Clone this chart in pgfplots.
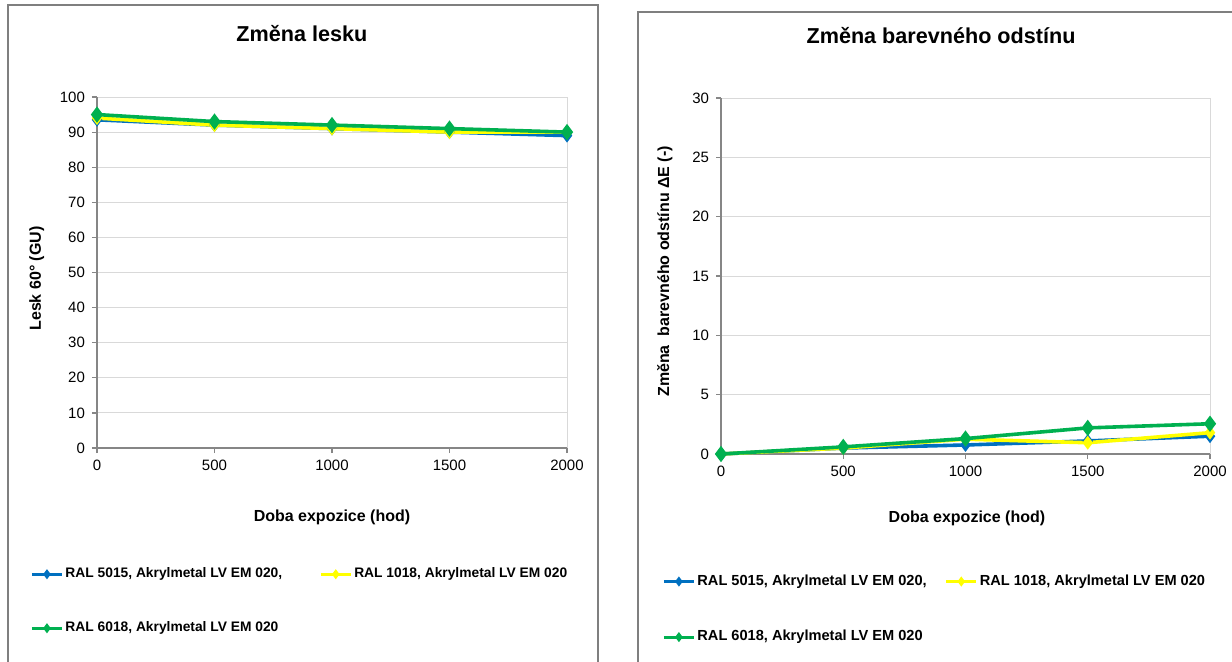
\documentclass[border=0pt]{standalone}
\usepackage{pgfplots}
\pgfplotsset{compat=1.18}
\usepackage{fontspec}
\setmainfont{Liberation Sans}
\definecolor{sblue}{HTML}{0070C0}
\definecolor{syellow}{HTML}{FFFF00}
\definecolor{sgreen}{HTML}{00B050}
\definecolor{axgray}{HTML}{868686}
\definecolor{gridgray}{HTML}{D9D9D9}
\definecolor{boxgray}{HTML}{7F7F7F}
\pgfplotsset{mystyle/.style={
 scale only axis, anchor=south west,
 xmin=0,xmax=2000, xtick={0,500,...,2000},
 axis x line*=bottom, axis y line*=left,
 axis line style={axgray, line width=0.6pt, -},
 tick style={axgray, line width=0.6pt},
 tick align=outside, major tick length=2.5pt,
 ymajorgrids, grid style={gridgray, line width=0.5pt},
 extra x ticks={2000}, extra x tick labels={}, extra x tick style={xmajorgrids, major tick length=0pt},
 tick label style={font=\fontsize{7.5}{9}\selectfont},
 /pgf/number format/assume math mode=true,
 /pgf/number format/1000 sep={},
 title style={font=\bfseries\fontsize{10.8}{13}\selectfont, anchor=center},
 xlabel style={font=\bfseries\fontsize{8}{10}\selectfont, anchor=center},
 ylabel style={font=\bfseries\fontsize{8}{10}\selectfont, anchor=center},
 every axis plot/.append style={line width=1.8pt, mark=diamond*},
 legend columns=2, legend cell align=left,
 legend image code/.code={\draw[mark repeat=2,mark phase=2,#1, line width=1.5pt, mark size=1.3pt] plot coordinates {(0pt,0pt)(7.5pt,0pt)(15pt,0pt)};},
 clip=false,
}}
\begin{document}
\begin{tikzpicture}[x=1pt,y=1pt]
\clip (0,0) rectangle (616,330.5);
\draw[boxgray, line width=0.6pt] (4,-5) -- (4,328) -- (299,328) -- (299,-5);
\draw[boxgray, line width=0.6pt] (319,-5) -- (319,324.5) -- (630,324.5);
\begin{axis}[mystyle, at={(48.5pt,106.5pt)}, width=235pt, height=175.5pt,
 ymin=0, ymax=100, ytick={0,10,...,100},
 title={Změna lesku}, title style={at={(axis description cs:0.436,1.148)}},
 xlabel={Doba expozice (hod)}, xlabel style={at={(axis description cs:0.5,-0.197)}},
 ylabel={Lesk 60° (GU)}, ylabel style={at={(axis description cs:-0.128,0.483)}},
 legend style={at={(axis description cs:-0.1424,-0.340)}, anchor=north west, draw=none, fill=none, inner sep=0pt,
   font=\bfseries\fontsize{6.9}{8}\selectfont, row sep=20.5pt,
   /tikz/every even column/.append style={column sep=17.5pt}, nodes={inner xsep=1pt, inner ysep=0pt}},
]
\addplot[sblue, mark size=2pt] coordinates {(0,93.5) (500,92) (1000,91) (1500,90) (2000,89)};
\addlegendentry{RAL 5015, Akrylmetal LV EM 020,}
\addplot[syellow, mark size=2pt] coordinates {(0,94) (500,92) (1000,91) (1500,90) (2000,90)};
\addlegendentry{RAL 1018, Akrylmetal LV EM 020}
\addplot[sgreen, mark size=2.6pt] coordinates {(0,95) (500,93) (1000,92) (1500,91) (2000,90)};
\addlegendentry{RAL 6018, Akrylmetal LV EM 020}
\end{axis}
\begin{axis}[mystyle, at={(360.5pt,103.5pt)}, width=244.5pt, height=178pt,
 ymin=0, ymax=30, ytick={0,5,...,30},
 title={Změna barevného odstínu}, title style={at={(axis description cs:0.45,1.143)}},
 xlabel={Doba expozice (hod)}, xlabel style={at={(axis description cs:0.503,-0.18)}},
 ylabel={Změna \ barevného odstínu ΔE (-)}, ylabel style={at={(axis description cs:-0.115,0.513)}},
 legend style={at={(axis description cs:-0.1206,-0.338)}, anchor=north west, draw=none, fill=none, inner sep=0pt,
   font=\bfseries\fontsize{7.3}{8.5}\selectfont, row sep=21pt,
   /tikz/every even column/.append style={column sep=8pt}, nodes={inner xsep=1pt, inner ysep=0pt}},
]
\addplot[sblue, mark size=2pt] coordinates {(0,0) (500,0.5) (1000,0.76) (1500,1.1) (2000,1.5)};
\addlegendentry{RAL 5015, Akrylmetal LV EM 020,}
\addplot[syellow, mark size=2pt] coordinates {(0,0) (500,0.5) (1000,1.25) (1500,0.95) (2000,1.8)};
\addlegendentry{RAL 1018, Akrylmetal LV EM 020}
\addplot[sgreen, mark size=2.6pt] coordinates {(0,0) (500,0.6) (1000,1.3) (1500,2.2) (2000,2.55)};
\addlegendentry{RAL 6018, Akrylmetal LV EM 020}
\end{axis}
\end{tikzpicture}
\end{document}
